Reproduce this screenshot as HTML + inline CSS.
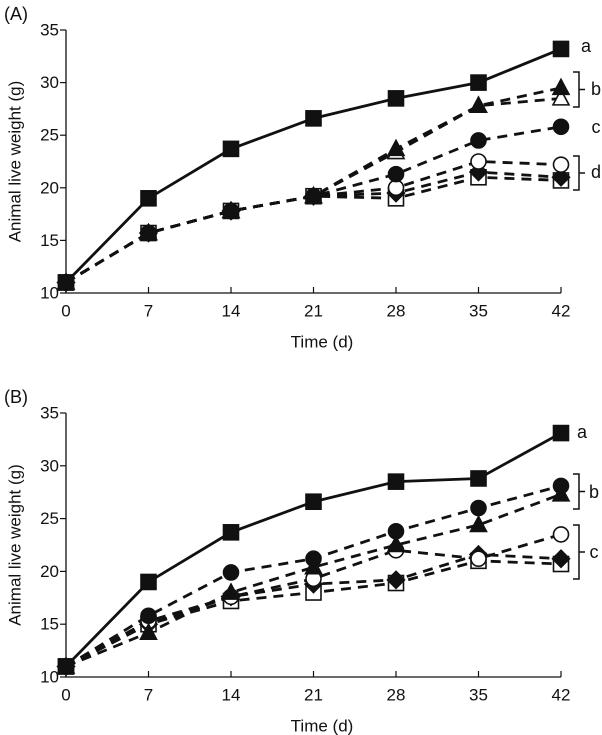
<!DOCTYPE html>
<html><head><meta charset="utf-8"><style>
html,body{margin:0;padding:0;background:#fff}
svg{display:block;font-family:"Liberation Sans",Arial,sans-serif}
</style></head><body>
<svg id="chart" width="602" height="735" viewBox="0 0 602 735" xmlns="http://www.w3.org/2000/svg"></svg>
<script>
const days = [0, 7, 14, 21, 28, 35, 42];
const yTicks = [10, 15, 20, 25, 30, 35];
const seriesNames = ['filled-square','filled-triangle','open-triangle','filled-circle','open-circle','filled-diamond','open-square'];
const seriesMarkers = ['sq-f','tri-f','tri-o','cir-f','cir-o','dia-f','sq-o'];
const aFilledSquare = [11, 19, 23.7, 26.6, 28.5, 30, 33.2];
const aFilledTriangle = [11, 15.7, 17.8, 19.2, 23.7, 27.8, 29.5];
const aOpenTriangle = [11, 15.7, 17.8, 19.2, 23.4, 27.8, 28.5];
const aFilledCircle = [11, 15.7, 17.8, 19.2, 21.3, 24.5, 25.8];
const aOpenCircle = [11, 15.7, 17.8, 19.2, 20, 22.5, 22.2];
const aFilledDiamond = [11, 15.7, 17.8, 19.2, 19.5, 21.5, 21];
const aOpenSquare = [11, 15.7, 17.8, 19.2, 19, 21, 20.7];
const bFilledSquare = [11, 19, 23.7, 26.6, 28.5, 28.8, 33.1];
const bFilledCircle = [11, 15.8, 19.9, 21.2, 23.8, 26, 28.1];
const bFilledTriangle = [11, 14.2, 18, 20.4, 22.5, 24.4, 27.3];
const bOpenCircle = [11, 15.3, 17.6, 19.3, 22, 21.2, 23.5];
const bFilledDiamond = [11, 15, 17.6, 18.8, 19.2, 21.6, 21.2];
const bOpenSquare = [11, 15, 17.2, 18, 18.9, 21, 20.7];

const NS='http://www.w3.org/2000/svg';
const svg=document.getElementById('chart');
function mk(tag,attrs,parent){const e=document.createElementNS(NS,tag);for(const k in attrs)e.setAttribute(k,attrs[k]);(parent||svg).appendChild(e);return e;}
function txt(s,x,y,size,parent,anchor){const t=mk('text',{x:x,y:y,'font-size':size,'text-anchor':anchor||'middle','dominant-baseline':'central',fill:'#111'},parent);t.textContent=s;return t;}

function panel(label,yBottom,yTop,seriesList,groups){
  const g=mk('g',{});
  
  
  const x0=66,x1=561;
  const xs=d=>x0+(d-0)/42*(x1-x0);
  const ys=v=>yBottom-(v-10)/25*(yBottom-yTop);
  const pl=txt('('+label+')',16,yTop-16,18,g);
  
  
  const ax=mk('path',{d:`M${x0},${yTop} V${yBottom} H${x1}`,stroke:'#111','stroke-width':1.3,fill:'none'},g);
  
  
  yTicks.forEach(v=>{
    mk('line',{x1:x0-6,x2:x0,y1:ys(v),y2:ys(v),stroke:'#111','stroke-width':1.2},g);
    const t=txt(String(v),x0-7,ys(v),17,g,'end');
    
    
  });
  days.forEach(d=>{
    mk('line',{x1:xs(d),x2:xs(d),y1:yBottom,y2:yBottom-6,stroke:'#111','stroke-width':1.2},g);
    const t=txt(String(d),xs(d),yBottom+18,17,g);
    
    
  });
  const xt=txt('Time (d)',322,yBottom+49,17,g);
  
  
  const ymid=(yTop+yBottom)/2;
  const yt=txt('Animal live weight (g)',15,ymid,17,g);
  yt.setAttribute('transform',`rotate(-90 15 ${ymid})`);
  
  
  seriesList.forEach((s,i)=>{
    const pts=s.vals.map((v,j)=>xs(days[j])+','+ys(v)).join(' ');
    const ln=mk('polyline',{points:pts,fill:'none',stroke:'#111','stroke-width':2.8,'stroke-dasharray':s.solid?'none':'10,7'},g);
    
    
  });
  seriesList.slice().reverse().forEach(s=>{
    s.vals.forEach((v,j)=>{
      const m=marker(s.marker,xs(days[j]),ys(v),g);
      
      
    });
  });
  groups.forEach(gr=>{
    if(gr.bracket){
      const [a,b]=gr.bracket;
      const br=mk('path',{d:`M${x1+12},${a} H${x1+18} V${b} H${x1+12} M${x1+18},${(a+b)/2} H${x1+24}`,stroke:'#111','stroke-width':1.5,fill:'none'},g);
      
      
    }
    const t=txt(gr.text,gr.x,gr.y,18,g);
    
    
  });
}
function marker(type,x,y,g){
  const f=type.endsWith('-f')?'#111':'#fff';
  const st={fill:f,stroke:'#111','stroke-width':1.6};
  if(type.startsWith('sq'))return mk('rect',Object.assign({x:x-7.5,y:y-7.5,width:15,height:15},st),g);
  if(type.startsWith('tri'))return mk('polygon',Object.assign({points:`${x},${y-8.5} ${x+8},${y+6.5} ${x-8},${y+6.5}`},st),g);
  if(type.startsWith('cir'))return mk('circle',Object.assign({cx:x,cy:y,r:7.5},st),g);
  return mk('polygon',Object.assign({points:`${x},${y-8.5} ${x+8.5},${y} ${x},${y+8.5} ${x-8.5},${y}`},st),g);
}
const aVals=[aFilledSquare,aFilledTriangle,aOpenTriangle,aFilledCircle,aOpenCircle,aFilledDiamond,aOpenSquare];
const aList=aVals.map((v,i)=>({name:seriesNames[i],marker:seriesMarkers[i],vals:v,solid:i===0}));
const bOrder=[0,1,3,4,5,6];
const bList=[bFilledSquare,bFilledTriangle,bFilledCircle,bOpenCircle,bFilledDiamond,bOpenSquare].map((v,i)=>({name:seriesNames[bOrder[i]],marker:seriesMarkers[bOrder[i]],vals:v,solid:i===0}));
panel('A',293,30,aList,[
  {text:'a',x:586,y:46},
  {text:'b',x:596,y:89,bracket:[72,107]},
  {text:'c',x:596,y:127},
  {text:'d',x:596,y:172,bracket:[156,190]}
]);
panel('B',677,413,bList,[
  {text:'a',x:582,y:432},
  {text:'b',x:594,y:492,bracket:[474,509]},
  {text:'c',x:594,y:552,bracket:[525,579]}
]);
</script>
</body></html>
